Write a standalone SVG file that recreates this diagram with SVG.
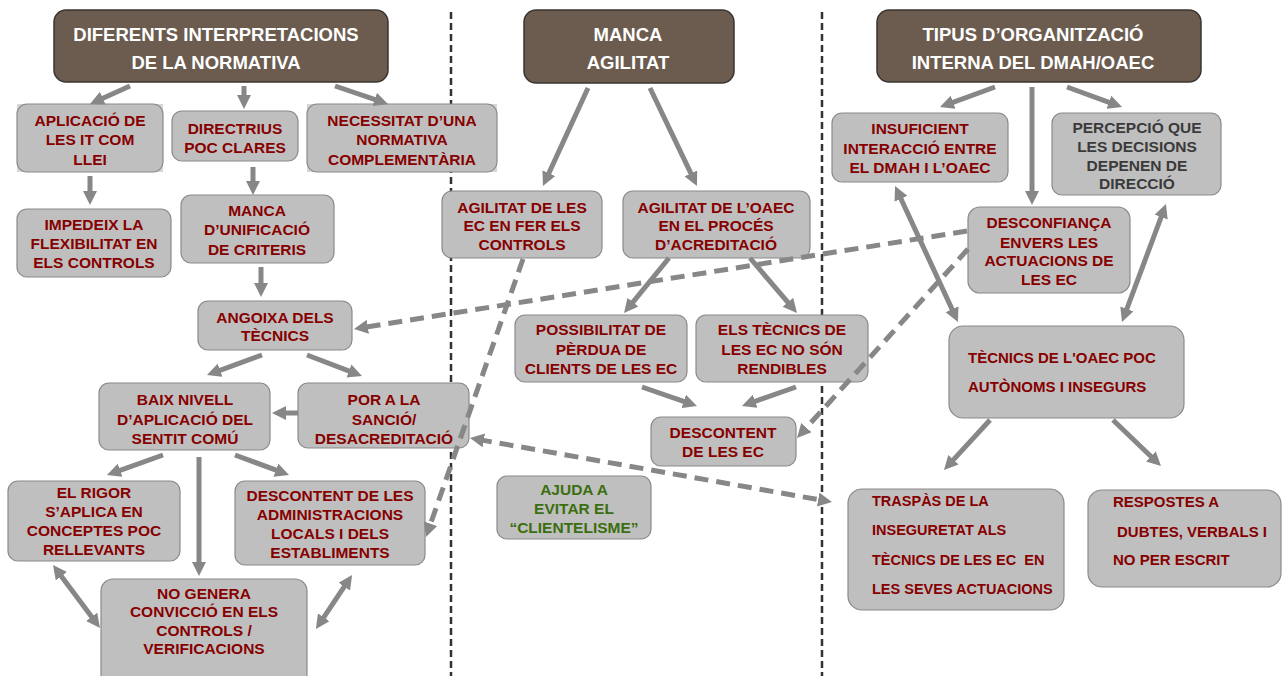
<svg xmlns="http://www.w3.org/2000/svg" width="1282" height="676" viewBox="0 0 1282 676">
<style>
.hdr{fill:#6b5c4f;stroke:#3a3430;stroke-width:1.5}
.ht{font-family:"Liberation Sans",Arial,sans-serif;font-weight:bold;font-size:18.5px;fill:#ffffff;text-anchor:middle}
.box{fill:#bfbfbf;stroke:#8a8a8a;stroke-width:1.2}
.t{font-family:"Liberation Sans",Arial,sans-serif;font-weight:bold;font-size:15.5px;fill:#870000;text-anchor:middle}
.tl{font-family:"Liberation Sans",Arial,sans-serif;font-weight:bold;font-size:15px;fill:#870000}
.sm{font-size:14.5px}
.g{fill:#3b6e0e}
.d{fill:#3a3a3a}
.div{stroke:#333333;stroke-width:2.5;stroke-dasharray:7 4;fill:none}
.a{stroke:#878787;stroke-width:5;fill:none;marker-end:url(#ah)}
.b{stroke:#878787;stroke-width:5;fill:none;marker-end:url(#ah);marker-start:url(#ah)}
.da{stroke:#878787;stroke-width:5;fill:none;stroke-dasharray:14 8;marker-end:url(#ah)}
.db{stroke:#878787;stroke-width:5;fill:none;stroke-dasharray:14 8;marker-end:url(#ah);marker-start:url(#ah)}
</style>
<defs>
<marker id="ah" viewBox="0 0 14 14" refX="6" refY="7" markerWidth="14" markerHeight="14" markerUnits="userSpaceOnUse" orient="auto-start-reverse">
<path d="M0,0 L14,7 L0,14 z" fill="#878787"/>
</marker>
</defs>
<rect width="1282" height="676" fill="#ffffff"/>
<g id="dividers">
<line class="div" x1="451" y1="12" x2="451" y2="676"/>
<line class="div" x1="822" y1="12" x2="822" y2="676"/>
</g>
<g id="h1"><rect class="hdr" x="54" y="10" width="334" height="72" rx="12"/>
<text class="ht" x="216" y="41">DIFERENTS INTERPRETACIONS</text><text class="ht" x="216" y="69">DE LA NORMATIVA</text></g>
<g id="h2"><rect class="hdr" x="524" y="10" width="210" height="73" rx="12"/>
<text class="ht" x="628" y="41">MANCA</text><text class="ht" x="628" y="69">AGILITAT</text></g>
<g id="h3"><rect class="hdr" x="877" y="10" width="324" height="72" rx="12"/>
<text class="ht" x="1033" y="41">TIPUS D’ORGANITZACIÓ</text><text class="ht" x="1033" y="69">INTERNA DEL DMAH/OAEC</text></g>

<g id="n_aplicacio"><rect x="17" y="104" width="146" height="68" fill="#d6d6d6"/><rect class="box" x="17" y="104" width="146" height="68" rx="10"/>
<text class="t" x="90" y="126">APLICACIÓ DE</text><text class="t" x="90" y="145">LES IT COM</text><text class="t" x="90" y="165">LLEI</text></g>
<g id="n_directrius"><rect class="box" x="172" y="111" width="126" height="50" rx="10"/>
<text class="t" x="235" y="134">DIRECTRIUS</text><text class="t" x="235" y="153">POC CLARES</text></g>
<g id="n_necessitat"><rect x="307" y="104" width="190" height="68" fill="#d6d6d6"/><rect class="box" x="307" y="104" width="190" height="68" rx="10"/>
<text class="t" x="402" y="126">NECESSITAT D’UNA</text><text class="t" x="402" y="145">NORMATIVA</text><text class="t" x="402" y="165">COMPLEMENTÀRIA</text></g>
<g id="n_impedeix"><rect class="box" x="17" y="209" width="154" height="68" rx="10"/>
<text class="t" x="94" y="230">IMPEDEIX LA</text><text class="t" x="94" y="249">FLEXIBILITAT EN</text><text class="t" x="94" y="268">ELS CONTROLS</text></g>
<g id="n_unificacio"><rect class="box" x="181" y="195" width="153" height="68" rx="10"/>
<text class="t" x="257" y="216">MANCA</text><text class="t" x="257" y="235">D’UNIFICACIÓ</text><text class="t" x="257" y="255">DE CRITERIS</text></g>
<g id="n_angoixa"><rect class="box" x="198" y="301" width="154" height="49" rx="10"/>
<text class="t" x="275" y="323">ANGOIXA DELS</text><text class="t" x="275" y="341">TÈCNICS</text></g>
<g id="n_baix"><rect class="box" x="99" y="383" width="171" height="67" rx="10"/>
<text class="t" x="185" y="405">BAIX NIVELL</text><text class="t" x="185" y="425">D’APLICACIÓ DEL</text><text class="t" x="185" y="444">SENTIT COMÚ</text></g>
<g id="n_por"><rect class="box" x="298" y="383" width="171" height="65" rx="10"/>
<text class="t" x="384" y="405">POR A LA</text><text class="t" x="384" y="425">SANCIÓ/</text><text class="t" x="384" y="444">DESACREDITACIÓ</text></g>
<g id="n_rigor"><rect class="box" x="8" y="481" width="172" height="80" rx="10"/>
<text class="t" x="94" y="498">EL RIGOR</text><text class="t" x="94" y="517">S’APLICA EN</text><text class="t" x="94" y="536">CONCEPTES POC</text><text class="t" x="94" y="555">RELLEVANTS</text></g>
<g id="n_descontent_admin"><rect class="box" x="235" y="481" width="190" height="84" rx="10"/>
<text class="t" x="330" y="501">DESCONTENT DE LES</text><text class="t" x="330" y="520">ADMINISTRACIONS</text><text class="t" x="330" y="539">LOCALS I DELS</text><text class="t" x="330" y="558">ESTABLIMENTS</text></g>
<g id="n_nogenera"><rect class="box" x="101" y="579" width="206" height="110" rx="12"/>
<text class="t" x="204" y="599">NO GENERA</text><text class="t" x="204" y="617">CONVICCIÓ EN ELS</text><text class="t" x="204" y="636">CONTROLS /</text><text class="t" x="204" y="654">VERIFICACIONS</text></g>

<g id="n_agil_ec"><rect class="box" x="442" y="191" width="160" height="67" rx="10"/>
<text class="t" x="522" y="213">AGILITAT DE LES</text><text class="t" x="522" y="231">EC EN FER ELS</text><text class="t" x="522" y="250">CONTROLS</text></g>
<g id="n_agil_oaec"><rect class="box" x="623" y="191" width="187" height="67" rx="10"/>
<text class="t" x="716" y="213">AGILITAT DE L’OAEC</text><text class="t" x="716" y="231">EN EL PROCÉS</text><text class="t" x="716" y="250">D’ACREDITACIÓ</text></g>
<g id="n_possibilitat"><rect class="box" x="515" y="315" width="172" height="67" rx="10"/>
<text class="t" x="601" y="335">POSSIBILITAT DE</text><text class="t" x="601" y="355">PÈRDUA DE</text><text class="t" x="601" y="374">CLIENTS DE LES EC</text></g>
<g id="n_tecnics_ec"><rect class="box" x="696" y="315" width="172" height="67" rx="10"/>
<text class="t" x="782" y="335">ELS TÈCNICS DE</text><text class="t" x="782" y="355">LES EC NO SÓN</text><text class="t" x="782" y="374">RENDIBLES</text></g>
<g id="n_descontent_ec"><rect class="box" x="651" y="417" width="145" height="49" rx="10"/>
<text class="t" x="723" y="438">DESCONTENT</text><text class="t" x="723" y="457">DE LES EC</text></g>
<g id="n_ajuda"><rect class="box" x="497" y="476" width="154" height="63" rx="10"/>
<text class="t g" x="574" y="495">AJUDA A</text><text class="t g" x="574" y="514">EVITAR EL</text><text class="t g" x="574" y="533">“CLIENTELISME”</text></g>

<g id="n_insuficient"><rect class="box" x="832" y="113" width="176" height="69" rx="10"/>
<text class="t" x="920" y="134">INSUFICIENT</text><text class="t" x="920" y="154">INTERACCIÓ ENTRE</text><text class="t" x="920" y="173">EL DMAH I L’OAEC</text></g>
<g id="n_percepcio"><rect class="box" x="1052" y="113" width="169" height="82" rx="10"/>
<text class="t d" x="1137" y="133">PERCEPCIÓ QUE</text><text class="t d" x="1137" y="152">LES DECISIONS</text><text class="t d" x="1137" y="171">DEPENEN DE</text><text class="t d" x="1137" y="189">DIRECCIÓ</text></g>
<g id="n_desconfianca"><rect class="box" x="968" y="207" width="162" height="86" rx="12"/>
<text class="t" x="1049" y="228">DESCONFIANÇA</text><text class="t" x="1049" y="248">ENVERS LES</text><text class="t" x="1049" y="266">ACTUACIONS DE</text><text class="t" x="1049" y="285">LES EC</text></g>
<g id="n_tecnics_oaec"><rect class="box" x="949" y="326" width="235" height="92" rx="14"/>
<text class="tl" x="968" y="363">TÈCNICS DE L'OAEC POC</text><text class="tl" x="968" y="392">AUTÒNOMS I INSEGURS</text></g>
<g id="n_traspas"><rect class="box" x="848" y="489" width="216" height="121" rx="14"/>
<text class="tl sm" x="872" y="506">TRASPÀS DE LA</text><text class="tl sm" x="872" y="535">INSEGURETAT ALS</text><text class="tl sm" x="872" y="565" xml:space="preserve">TÈCNICS DE LES EC  EN</text><text class="tl sm" x="872" y="594">LES SEVES ACTUACIONS</text></g>
<g id="n_respostes"><rect class="box" x="1088" y="490" width="193" height="97" rx="14"/>
<text class="tl" x="1113" y="507">RESPOSTES A</text><text class="tl" x="1117" y="537">DUBTES, VERBALS I</text><text class="tl" x="1113" y="565">NO PER ESCRIT</text></g>

<g id="connectors">
<path class="a" d="M130,86 L97.3,100.7"/>
<path class="a" d="M244,86 L244,101"/>
<path class="a" d="M335,86 L380.4,101.4"/>
<path class="a" d="M90,176 L90,197"/>
<path class="a" d="M253,167 L253,187"/>
<path class="a" d="M261,267 L261,289"/>
<path class="a" d="M262,355 L214.5,372.3"/>
<path class="a" d="M307,355 L354.5,373.1"/>
<path class="a" d="M298,413 L280,413"/>
<path class="a" d="M163,455 L114.5,472.3"/>
<path class="a" d="M199,457 L199,568"/>
<path class="a" d="M235,455 L281.5,472.2"/>
<path class="b" d="M57.8,571.4 L95.2,621.6"/>
<path class="b" d="M347.6,581.7 L320.4,622.3"/>
<path class="a" d="M588,88 L546.3,178.7"/>
<path class="a" d="M650,88 L693.5,178.8"/>
<path class="a" d="M669,258 L629.1,306.8"/>
<path class="a" d="M750,258 L791.8,306.9"/>
<path class="a" d="M642,387 L689.4,403.4"/>
<path class="a" d="M796,387 L749.5,403.3"/>
<path class="a" d="M995,87 L947.5,104.3"/>
<path class="a" d="M1032,87 L1032,197"/>
<path class="a" d="M1067,87 L1114.5,104.3"/>
<path class="b" d="M898.4,193.3 L954.6,314.7"/>
<path class="b" d="M1163.2,211.5 L1124.8,314.5"/>
<path class="a" d="M990,420 L949.4,464.1"/>
<path class="a" d="M1113,420 L1155.2,460.5"/>
<path class="da" d="M967,231 L361.9,327.7"/>
<path class="da" d="M968,249 L802.4,432.1"/>
<path class="da" d="M523,259 L428.6,529.4"/>
<path class="db" d="M477.9,439.4 L824.1,500.6"/>
</g>
</svg>
